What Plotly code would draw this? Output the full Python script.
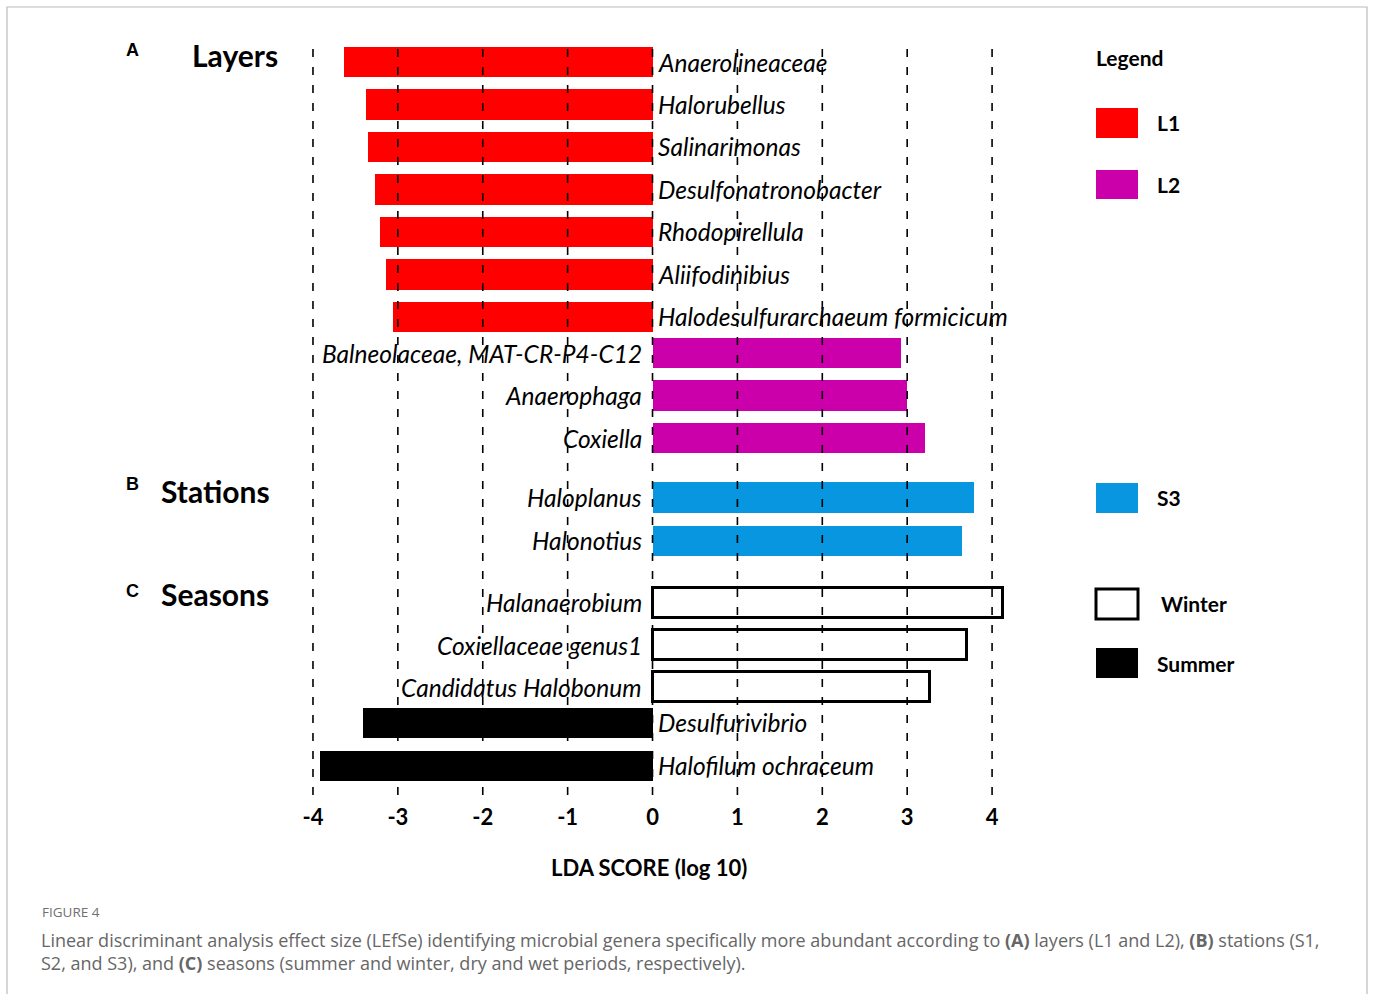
import plotly.graph_objects as go

# ---------------- data ----------------
l1_names = ["Anaerolineaceae", "Halorubellus", "Salinarimonas", "Desulfonatronobacter",
            "Rhodopirellula", "Aliifodinibius", "Halodesulfurarchaeum formicicum"]
l1_scores = [-3.64, -3.38, -3.35, -3.27, -3.21, -3.14, -3.06]
l1_rows = [0.0, 1.0, 2.0, 3.0, 4.0, 5.0, 6.0]

l2_names = ["Balneolaceae, MAT-CR-P4-C12", "Anaerophaga", "Coxiella"]
l2_scores = [2.93, 3.00, 3.21]
l2_rows = [6.85, 7.85, 8.85]

s3_names = ["Haloplanus", "Halonotius"]
s3_scores = [3.79, 3.65]
s3_rows = [10.25, 11.27]

winter_names = ["Halanaerobium", "Coxiellaceae genus1", "Candidatus Halobonum"]
winter_scores = [4.13, 3.71, 3.27]
winter_rows = [12.73, 13.72, 14.71]

summer_names = ["Desulfurivibrio", "Halofilum ochraceum"]
summer_scores = [-3.41, -3.92]
summer_rows = [15.55, 16.56]

tick_vals = [-4, -3, -2, -1, 0, 1, 2, 3, 4]
tick_text = ["-4", "-3", "-2", "-1", "0", "1", "2", "3", "4"]

legend_labels = ["L1", "L2", "S3", "Winter", "Summer"]

# ---------------- layout geometry ----------------
W, H = 1373, 994
PL, PR, PT, PB = 296, 1043, 45, 795


def px(x):
    return (x - PL) / (PR - PL)


def py(y):
    return (PB - y) / (PB - PT)


C_L1 = "#FF0000"
C_L2 = "#CC00AA"
C_S3 = "#0896E0"

BAR_W = 0.71
LAB_FONT = dict(family="Lato", size=24.5, color="black", style="italic")

fig = go.Figure()

groups = [
    (l1_names, l1_scores, l1_rows, dict(color=C_L1, line=dict(width=0))),
    (l2_names, l2_scores, l2_rows, dict(color=C_L2, line=dict(width=0))),
    (s3_names, s3_scores, s3_rows, dict(color=C_S3, line=dict(width=0))),
    (winter_names, winter_scores, winter_rows, dict(color="white", line=dict(color="black", width=3))),
    (summer_names, summer_scores, summer_rows, dict(color="black", line=dict(width=0))),
]

annotations = []
for names, scores, rows, marker in groups:
    fig.add_trace(go.Bar(x=scores, y=rows, orientation="h", width=BAR_W,
                         marker=marker, showlegend=False, hoverinfo="x+text",
                         text=names, textposition="none"))
    for n, s, r in zip(names, scores, rows):
        if s < 0:
            annotations.append(dict(x=0, y=r, xref="x", yref="y", text=n, showarrow=False,
                                    xanchor="left", yanchor="middle", xshift=3, font=LAB_FONT))
        else:
            annotations.append(dict(x=0, y=r, xref="x", yref="y", text=n, showarrow=False,
                                    xanchor="right", yanchor="middle", xshift=-9, font=LAB_FONT))

shapes = []
# dashed vertical grid lines drawn above the bars
for tv in tick_vals:
    shapes.append(dict(type="line", xref="x", yref="paper", x0=tv, x1=tv, y0=0, y1=1,
                       line=dict(color="black", width=1.6, dash="8px,10px"), layer="above"))

# frame around figure
shapes.append(dict(type="rect", xref="paper", yref="paper", x0=px(7), x1=px(1367),
                   y0=py(1000), y1=py(7), line=dict(color="#BBBBBB", width=1.2),
                   fillcolor="rgba(0,0,0,0)", layer="below"))

# legend swatches
sw = [
    (108, 138, C_L1, C_L1, 0),
    (170, 199, C_L2, C_L2, 0),
    (483, 513, C_S3, C_S3, 0),
    (589, 619, "white", "black", 3),
    (648, 678, "black", "black", 0),
]
for (y0, y1, fc, lc, lw) in sw:
    shapes.append(dict(type="rect", xref="paper", yref="paper", x0=px(1096), x1=px(1138),
                       y0=py(y1), y1=py(y0), fillcolor=fc,
                       line=dict(color=lc, width=lw)))

BOLD = dict(family="Lato", size=21, color="black", weight="bold")
leg_pos = [(1155, 123), (1155, 184), (1155, 497), (1159, 603), (1155, 663)]
for lab, (xx, yy) in zip(legend_labels, leg_pos):
    annotations.append(dict(x=px(xx), y=py(yy), xref="paper", yref="paper", text=lab,
                            showarrow=False, xanchor="left", yanchor="middle", font=BOLD))
annotations.append(dict(x=px(1094), y=py(58), xref="paper", yref="paper", text="Legend",
                        showarrow=False, xanchor="left", yanchor="middle", font=BOLD))

# section labels
SEC = dict(family="Lato", size=30, color="black", weight="bold")
LET = dict(family="Liberation Sans", size=18, color="black", weight="bold")
for letter, word, ly, wx, wy in [("A", "Layers", 50, 190, 55),
                                  ("B", "Stations", 484, 159, 491),
                                  ("C", "Seasons", 591, 159, 594)]:
    annotations.append(dict(x=px(132), y=py(ly), xref="paper", yref="paper", text=letter,
                            showarrow=False, xanchor="center", yanchor="middle", font=LET))
    annotations.append(dict(x=px(wx), y=py(wy), xref="paper", yref="paper", text=word,
                            showarrow=False, xanchor="left", yanchor="middle", font=SEC))

# axis title
annotations.append(dict(x=px(649), y=py(867), xref="paper", yref="paper",
                        text="LDA SCORE (log 10)", showarrow=False, xanchor="center",
                        yanchor="middle", font=dict(family="Lato", size=22, color="black",
                                                    weight="bold")))

# caption
annotations.append(dict(x=px(40), y=py(912), xref="paper", yref="paper", text="FIGURE 4",
                        showarrow=False, xanchor="left", yanchor="middle",
                        font=dict(family="Open Sans", size=13.5, color="#707070")))
cap = ("Linear discriminant analysis effect size (LEfSe) identifying microbial genera specifically more "
       "abundant according to <b>(A)</b> layers (L1 and L2), <b>(B)</b> stations (S1,<br>"
       "S2, and S3), and <b>(C)</b> seasons (summer and winter, dry and wet periods, respectively).")
annotations.append(dict(x=px(39), y=py(951), xref="paper", yref="paper", text=cap,
                        showarrow=False, xanchor="left", yanchor="middle", align="left",
                        font=dict(family="Open Sans", size=18, color="#666666")))

fig.update_layout(
    width=W, height=H,
    margin=dict(l=PL, r=W - PR, t=PT, b=H - PB),
    paper_bgcolor="white", plot_bgcolor="white",
    bargap=0,
    xaxis=dict(range=[-4.2, 4.6], tickvals=tick_vals, ticktext=tick_text, showgrid=False,
               zeroline=False, showline=False, ticks="", ticklabelstandoff=7,
               tickfont=dict(family="Lato", size=22, color="black", weight="bold")),
    yaxis=dict(range=[17.25, -0.4], showticklabels=False, showgrid=False, zeroline=False,
               showline=False, ticks=""),
    shapes=shapes, annotations=annotations,
)

fig.write_html("out.html", config=dict(displayModeBar=False),
               post_script="document.body.style.margin='0';document.body.style.overflow='hidden';")
